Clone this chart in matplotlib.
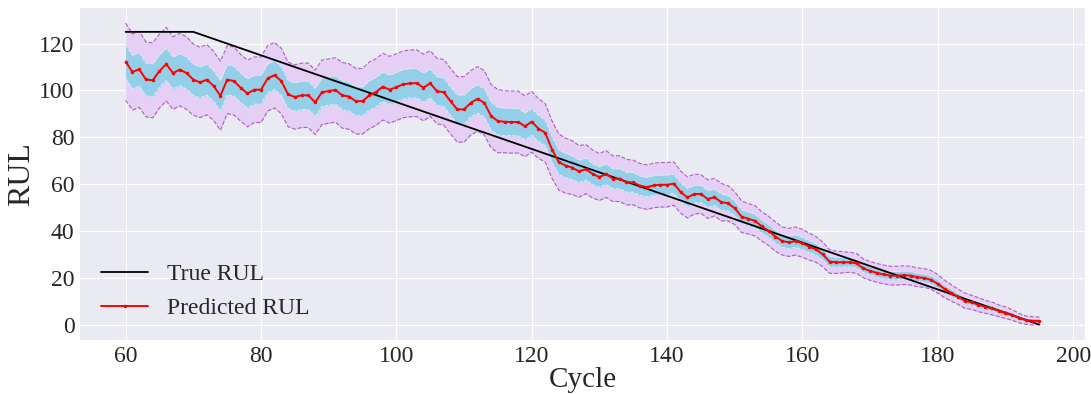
import numpy as np
import matplotlib
matplotlib.use('Agg')
import matplotlib.pyplot as plt

# cycles 60..195
cycles = np.arange(60, 196)

# true RUL (piecewise linear: capped at 125)
true_cycles = [60, 70, 195]
true_rul = [125, 125, 0]

# predicted RUL (mean) per cycle
pred_rul = [
    112.3, 107.9, 109.0, 104.7, 104.3, 108.3, 111.2, 107.4, 108.9, 107.4,
    104.6, 103.4, 104.6, 101.9, 97.7, 104.6, 104.0, 101.1, 98.7, 100.3,
    100.3, 105.2, 106.5, 104.0, 98.3, 97.2, 97.9, 97.9, 94.9, 99.2,
    99.7, 100.2, 97.9, 97.4, 95.4, 95.4, 97.9, 99.3, 101.6, 100.3,
    101.4, 102.6, 103.0, 103.1, 101.2, 103.0, 99.7, 99.2, 95.4, 91.9,
    91.9, 94.7, 96.4, 94.7, 89.0, 86.9, 86.6, 86.5, 86.5, 84.7,
    86.6, 83.7, 81.9, 74.7, 69.4, 67.9, 67.0, 65.4, 66.4, 64.3,
    63.0, 64.3, 62.3, 62.3, 60.8, 60.7, 59.3, 58.7, 59.4, 59.7,
    59.7, 60.2, 56.6, 54.3, 55.7, 55.8, 53.6, 54.4, 52.3, 51.8,
    49.7, 46.1, 45.2, 44.3, 41.9, 40.0, 37.6, 35.7, 35.1, 35.7,
    34.7, 33.3, 32.1, 30.0, 26.9, 26.6, 26.6, 26.6, 26.1, 24.0,
    22.9, 22.1, 21.4, 20.9, 20.9, 21.1, 20.9, 20.2, 19.9, 19.1,
    17.4, 15.2, 13.5, 11.9, 10.2, 9.5, 8.5, 7.6, 6.9, 5.9,
    5.1, 4.1, 2.8, 1.9, 1.6, 1.6,
]

# predictive std per cycle
pred_std = [
    6.6, 6.5, 6.5, 6.4, 6.4, 6.3, 6.3, 6.2, 6.2, 6.2,
    6.1, 6.0, 6.0, 5.9, 5.9, 5.8, 5.8, 5.7, 5.7, 5.6,
    5.6, 5.6, 5.6, 5.6, 5.5, 5.5, 5.5, 5.5, 5.5, 5.5,
    5.5, 5.5, 5.6, 5.6, 5.6, 5.6, 5.7, 5.7, 5.7, 5.7,
    5.7, 5.7, 5.7, 5.7, 5.7, 5.6, 5.6, 5.6, 5.6, 5.6,
    5.6, 5.5, 5.5, 5.5, 5.4, 5.4, 5.3, 5.3, 5.3, 5.2,
    5.2, 5.1, 5.0, 4.9, 4.8, 4.7, 4.6, 4.4, 4.2, 4.1,
    4.0, 4.0, 3.9, 3.9, 3.9, 3.8, 3.8, 3.8, 3.8, 3.8,
    3.8, 3.7, 3.6, 3.5, 3.4, 3.3, 3.3, 3.2, 3.2, 3.0,
    2.8, 2.7, 2.6, 2.6, 2.5, 2.5, 2.5, 2.4, 2.4, 2.4,
    2.4, 2.3, 2.2, 2.1, 2.0, 1.9, 1.8, 1.7, 1.7, 1.6,
    1.6, 1.6, 1.6, 1.6, 1.6, 1.6, 1.6, 1.6, 1.6, 1.6,
    1.6, 1.5, 1.4, 1.3, 1.3, 1.2, 1.2, 1.1, 1.1, 1.0,
    1.0, 0.9, 0.8, 0.7, 0.7, 0.65,
]

plt.style.use('seaborn-v0_8-darkgrid')
plt.rcParams['font.family'] = ['Liberation Serif', 'DejaVu Serif']

mu = np.array(pred_rul)
sd = np.array(pred_std)

fig = plt.figure(figsize=(10.91, 3.94), dpi=100)
ax = fig.add_axes([0.0733, 0.137, 0.9212, 0.843])

# outer band
ax.fill_between(cycles, mu - 2.5*sd, mu + 2.5*sd, color='#e6cff4', lw=0)
ax.plot(cycles, mu + 2.5*sd, '--', color='#9b3fb5', lw=0.8, alpha=0.8)
ax.plot(cycles, mu - 2.5*sd, '--', color='#9b3fb5', lw=0.8, alpha=0.8)
# inner band
ax.fill_between(cycles, mu - 1.1*sd, mu + 1.1*sd, color='#94cfea', lw=0)
ax.plot(cycles, mu + 1.1*sd, '--', color='#d8eef8', lw=0.7)
ax.plot(cycles, mu - 1.1*sd, '--', color='#d8eef8', lw=0.7)

ax.plot(true_cycles, true_rul, color='black', lw=1.3, label='True RUL')
ax.plot(cycles, mu, color='red', lw=1.4, marker='.', ms=3, label='Predicted RUL')

ax.set_xlabel('Cycle', fontsize=21, color='#262626', labelpad=0)
ax.set_ylabel('RUL', fontsize=23, color='#262626', labelpad=2)
ax.tick_params(labelsize=17, labelcolor='#262626', pad=4)
ax.set_xticks([60, 80, 100, 120, 140, 160, 180, 200])
ax.set_yticks([0, 20, 40, 60, 80, 100, 120])
leg = ax.legend(loc='lower left', fontsize=17, frameon=False)
for t in leg.get_texts():
    t.set_color('#262626')

fig.savefig('out.png', dpi=100)
